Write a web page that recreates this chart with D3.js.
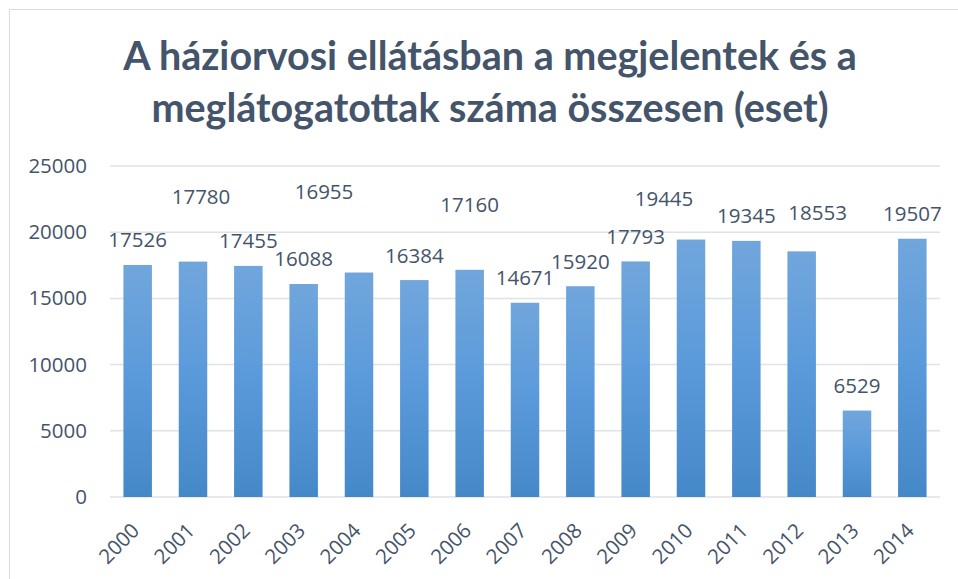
<!DOCTYPE html>
<html>
<head>
<meta charset="utf-8">
<script src="https://cdn.jsdelivr.net/npm/d3@7/dist/d3.min.js"></script>
<style>
  html, body { margin: 0; padding: 0; background: #ffffff; }
  svg { display: block; }
</style>
</head>
<body>
<svg id="chart" width="958" height="579"></svg>
<script>
// Years shown on the category axis
const years = ["2000", "2001", "2002", "2003", "2004", "2005", "2006", "2007",
               "2008", "2009", "2010", "2011", "2012", "2013", "2014"];
// Attended and visited cases in GP care (total cases)
const cases = [17526, 17780, 17455, 16088, 16955, 16384, 17160, 14671,
               15920, 17793, 19445, 19345, 18553, 6529, 19507];
// Value axis ticks
const yTicks = [0, 5000, 10000, 15000, 20000, 25000];
const titleLines = ["A háziorvosi ellátásban a megjelentek és a",
                    "meglátogatottak száma összesen (eset)"];

// Manual label shifts (px) for labels moved off their default spot
const labelShift = [[0, 0], [8, -40], [0, 0], [0, 0], [-35, -56], [0, 0], [0, -40], [0, 0],
                    [0, 0], [0, 0], [-27, -16], [0, 0], [16, -14], [0, 0], [0, 0]];

const textColor = "#44546a";
const gridColor = "#dfe2e7";
const numFont = "'Open Sans', sans-serif";

const svg = d3.select("#chart");

// chart frame
svg.append("rect")
  .attr("x", 9.5).attr("y", 9.5)
  .attr("width", 1200).attr("height", 1200)
  .attr("fill", "none").attr("stroke", "#d9dde3").attr("stroke-width", 1);

// bar gradient
const grad = svg.append("defs").append("linearGradient")
  .attr("id", "barFill").attr("x1", 0).attr("y1", 0).attr("x2", 0).attr("y2", 1);
grad.append("stop").attr("offset", "0%").attr("stop-color", "#71a6dc");
grad.append("stop").attr("offset", "45%").attr("stop-color", "#5c9bdb");
grad.append("stop").attr("offset", "100%").attr("stop-color", "#4588c8");

// title
const title = svg.append("text")
  .attr("text-anchor", "middle")
  .attr("fill", textColor)
  .style("font-family", "Lato, sans-serif")
  .style("font-weight", "bold")
  .style("font-size", "39.5px");
title.selectAll("tspan").data(titleLines).join("tspan")
  .attr("x", 490)
  .attr("y", (d, i) => 70 + i * 52)
  .text(d => d);

const x = d3.scaleBand().domain(years).range([110, 940]).paddingInner(0.485).paddingOuter(0.2425);
const y = d3.scaleLinear().domain([0, 25000]).range([497, 166]);

// gridlines
svg.append("g")
  .selectAll("line").data(yTicks).join("line")
  .attr("x1", 110).attr("x2", 940)
  .attr("y1", d => y(d)).attr("y2", d => y(d))
  .attr("stroke", gridColor).attr("stroke-width", 1.5);

// value axis labels
const yAxis = svg.append("g")
  .attr("transform", "translate(95,0)")
  .call(d3.axisLeft(y).tickValues(yTicks).tickSize(0).tickPadding(8).tickFormat(d3.format("d")));
yAxis.select(".domain").remove();
yAxis.selectAll("text")
  .attr("fill", textColor)
  .style("font-family", numFont)
  .style("font-size", "20.5px");

// bars
svg.append("g")
  .selectAll("rect").data(cases).join("rect")
  .attr("x", (d, i) => x(years[i]))
  .attr("width", x.bandwidth())
  .attr("y", d => y(d))
  .attr("height", d => y(0) - y(d))
  .attr("fill", "url(#barFill)");

// value labels
svg.append("g")
  .selectAll("text").data(cases).join("text")
  .attr("x", (d, i) => x(years[i]) + x.bandwidth() / 2 + labelShift[i][0])
  .attr("y", (d, i) => y(d) - 17.5 + labelShift[i][1])
  .attr("text-anchor", "middle")
  .attr("fill", textColor)
  .style("font-family", numFont)
  .style("font-size", "20.5px")
  .text(d => d);

// category axis labels
const xAxis = svg.append("g")
  .attr("transform", "translate(0,497)")
  .call(d3.axisBottom(x).tickSize(0).tickPadding(0));
xAxis.select(".domain").remove();
xAxis.selectAll("text")
  .attr("fill", textColor)
  .style("font-family", numFont)
  .style("font-size", "20.5px")
  .attr("text-anchor", "end")
  .attr("dy", null)
  .attr("y", 0)
  .attr("transform", "translate(3,35) rotate(-45)");
</script>
</body>
</html>
